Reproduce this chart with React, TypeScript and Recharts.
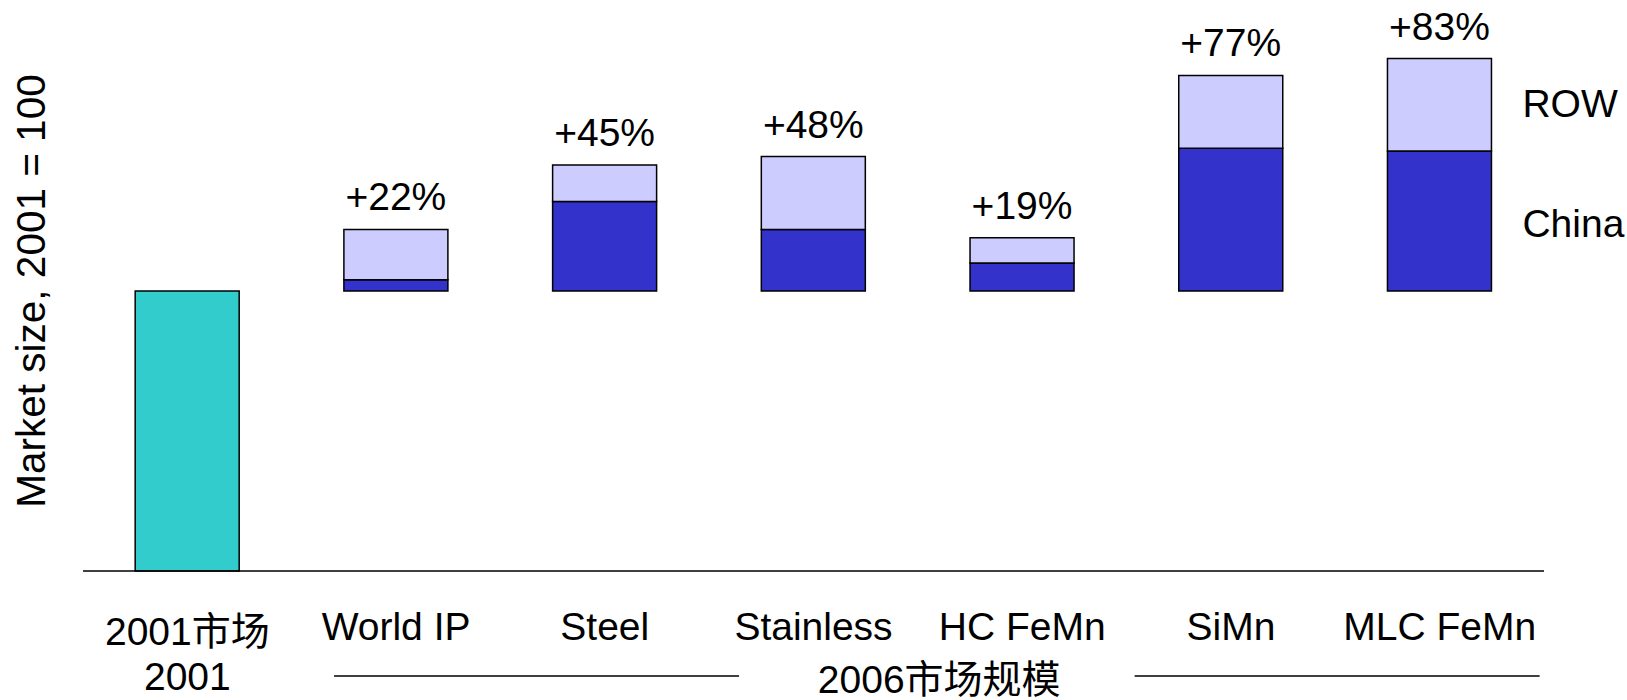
import { Bar, BarChart, LabelList, XAxis, YAxis } from "recharts";

// index 2001 = 100; 2006 bars float on top of the 2001 level
const categories = ["2001市场", "World IP", "Steel", "Stainless", "HC FeMn", "SiMn", "MLC FeMn"];
const market2001 = [100, 0, 0, 0, 0, 0, 0];
const base2006 = [0, 100, 100, 100, 100, 100, 100];
const chinaGrowth = [0, 4, 32, 22, 10, 51, 50];
const rowGrowth = [0, 18, 13, 26, 9, 26, 33];

const FONT = "'Liberation Sans', Arial, 'Noto Sans CJK SC', sans-serif";
const FS = 39;

const data = categories.map((name, i) => ({
  name,
  m2001: market2001[i],
  base: base2006[i],
  china: chinaGrowth[i],
  row: rowGrowth[i],
}));

const lastName = categories[categories.length - 1];

const CategoryTick = (props: any) => {
  const { x, y, payload, index } = props;
  if (index === 0) {
    return (
      <g>
        <text x={x} y={y + 74} textAnchor="middle" fontSize={FS} fontFamily={FONT} fill="#000">
          {payload.value}
        </text>
        <text x={x} y={y + 119} textAnchor="middle" fontSize={FS} fontFamily={FONT} fill="#000">
          2001
        </text>
      </g>
    );
  }
  return (
    <g>
      <text x={x} y={y + 69} textAnchor="middle" fontSize={FS} fontFamily={FONT} fill="#000">
        {payload.value}
      </text>
      {index === 1 && <line x1={x - 62} x2={x + 343} y1={y + 105} y2={y + 105} stroke="#000" strokeWidth={1.5} />}
      {index === 4 && (
        <text x={x - 83} y={y + 122} textAnchor="middle" fontSize={FS} fontFamily={FONT} fill="#000">
          2006市场规模
        </text>
      )}
      {index === 6 && <line x1={x - 305} x2={x + 100} y1={y + 105} y2={y + 105} stroke="#000" strokeWidth={1.5} />}
    </g>
  );
};

const PctLabel = (props: any) => {
  const { x, y, width, value } = props;
  if (!value) return null;
  return (
    <text x={x + width / 2} y={y - 19} textAnchor="middle" fontSize={FS} fontFamily={FONT} fill="#000">
      {`+${value}%`}
    </text>
  );
};

const SideLabel = (text: string, dy: number) => (props: any) => {
  const { x, y, width, height, value } = props;
  if (value !== lastName) return null;
  return (
    <text x={x + width + 31} y={y + height / 2 + dy} fontSize={FS} fontFamily={FONT} fill="#000">
      {text}
    </text>
  );
};

export default function App() {
  return (
    <div style={{ position: "absolute", left: 0, top: 0, background: "#fff" }}>
      <BarChart
        width={1627}
        height={700}
        data={data}
        margin={{ top: 11, right: 83, bottom: 0, left: 0 }}
        barCategoryGap="25%"
      >
        <XAxis
          dataKey="name"
          height={129}
          tickLine={false}
          tickSize={0}
          tickMargin={0}
          axisLine={{ stroke: "#000", strokeWidth: 1.5 }}
          tick={<CategoryTick />}
          interval={0}
        />
        <YAxis
          domain={[0, 200]}
          width={83}
          tick={false}
          tickLine={false}
          axisLine={false}
          label={{
            content: ({ viewBox }: any) => (
              <text
                x={31}
                y={viewBox.y + viewBox.height / 2}
                transform={`rotate(-90 31 ${viewBox.y + viewBox.height / 2})`}
                textAnchor="middle"
                dominantBaseline="central"
                fontSize={40.5}
                fontFamily={FONT}
                fill="#000"
              >
                Market size, 2001 = 100
              </text>
            ),
          }}
        />
        <Bar dataKey="m2001" stackId="a" fill="#33CCCC" stroke="#000" strokeWidth={1.5} isAnimationActive={false} />
        <Bar dataKey="base" stackId="a" fill="transparent" stroke="none" isAnimationActive={false} />
        <Bar dataKey="china" stackId="a" fill="#3333CC" stroke="#000" strokeWidth={1.5} isAnimationActive={false}>
          <LabelList dataKey="name" content={SideLabel("China", 16)} />
        </Bar>
        <Bar dataKey="row" stackId="a" fill="#CCCCFF" stroke="#000" strokeWidth={1.5} isAnimationActive={false}>
          <LabelList dataKey={(d: any) => d.china + d.row} content={PctLabel} />
          <LabelList dataKey="name" content={SideLabel("ROW", 12)} />
        </Bar>
      </BarChart>
    </div>
  );
}
